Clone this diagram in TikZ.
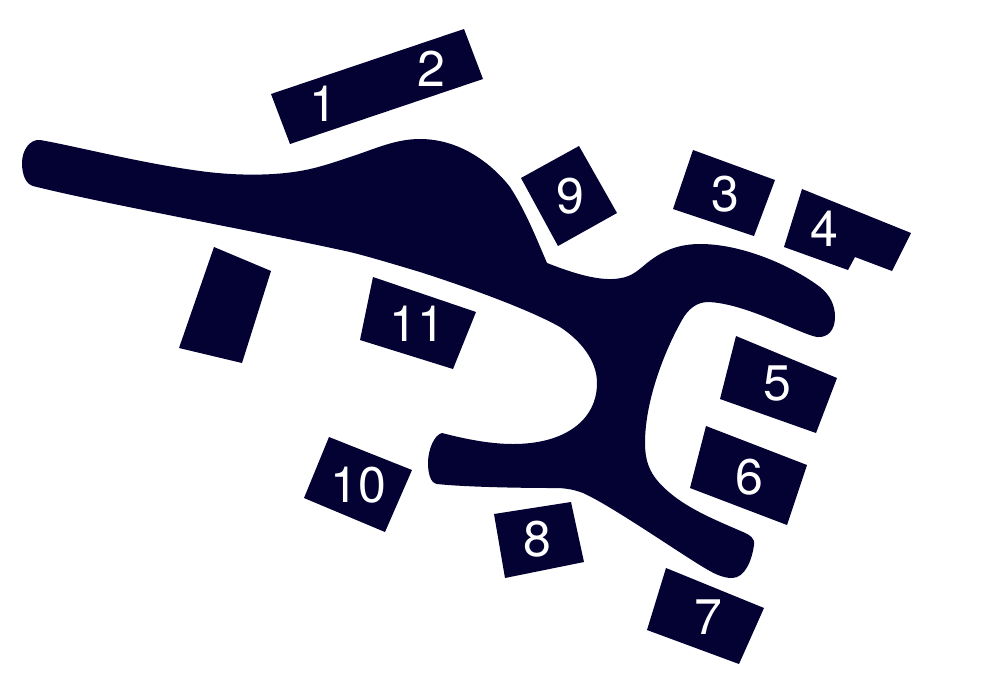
\documentclass[tikz,border=0pt]{standalone}
\usepackage{fontspec}
\setmainfont{TeX Gyre Heros}
\definecolor{ink}{HTML}{040233}
\tikzset{
  block/.style={fill=ink,draw=none},
  num/.style={text=white,inner sep=0pt,font=\fontsize{37.5}{37.5}\selectfont}
}
\begin{document}
\begin{tikzpicture}[x=0.75pt,y=-0.75pt]
\useasboundingbox (0,0) rectangle (1000,694);
\fill[white] (0,0) rectangle (1000,694);
\fill[block] (40,140) .. controls (75,146) and (140,163) .. (200,171)
 .. controls (225,174.5) and (265,177) .. (300,171)
 .. controls (318,168) and (335,162) .. (350,157)
 .. controls (375,149) and (395,139) .. (420,139)
 .. controls (465,139) and (497,170) .. (510,187)
 .. controls (525,210) and (535,235) .. (547,263)
 .. controls (565,270) and (592,280) .. (613,279)
 .. controls (630,278) and (635,273) .. (647,263)
 .. controls (663,250) and (680,244) .. (700,244)
 .. controls (745,244) and (795,268) .. (820,287)
 .. controls (830,295) and (835,305) .. (835,317)
 .. controls (835,330) and (828,338) .. (817,337)
 .. controls (800,334) and (745,303) .. (708,302)
 .. controls (697,302) and (688,309) .. (682,320)
 .. controls (665,350) and (645,400) .. (645,443)
 .. controls (645,465) and (652,478) .. (670,493)
 .. controls (690,510) and (720,522) .. (743,532)
 .. controls (750,535) and (755,538) .. (754,545)
 .. controls (752,560) and (745,578) .. (732,578)
 .. controls (722,578) and (713,573) .. (703,567)
 .. controls (675,550) and (610,505) .. (583,493)
 .. controls (570,488) and (560,488) .. (553,488)
 .. controls (520,488) and (465,487) .. (437,484)
 .. controls (430,483) and (428,472) .. (428,463)
 .. controls (428,450) and (434,435) .. (442,433)
 .. controls (465,439) and (490,444) .. (513,444)
 .. controls (565,444) and (597,420) .. (597,383)
 .. controls (597,360) and (580,340) .. (560,327)
 .. controls (530,310) and (470,288) .. (420,272)
 .. controls (390,263) and (370,257) .. (350,252)
 .. controls (250,230) and (100,203) .. (33,186)
 .. controls (26,184) and (22,175) .. (22,163)
 .. controls (22,150) and (30,139) .. (40,140) -- cycle;
\fill[block] (271,94) -- (464,29) -- (483,79) -- (290,144) -- cycle;
\fill[block] (521,178) -- (579,146) -- (617,213) -- (558,246) -- cycle;
\fill[block] (693,150) -- (775,180) -- (754,236) -- (673,209) -- cycle;
\fill[block] (802,189) -- (911,233) -- (892,271) -- (855,257) -- (848,270) -- (784,247) -- cycle;
\fill[block] (736,336) -- (837,378) -- (816,433) -- (720,399) -- cycle;
\fill[block] (706,426) -- (807,465) -- (787,525) -- (690,488) -- cycle;
\fill[block] (666,568) -- (764,608) -- (739,664) -- (647,630) -- cycle;
\fill[block] (494,514) -- (571,502) -- (584,562) -- (505,578) -- cycle;
\fill[block] (329,437) -- (412,470) -- (385,532) -- (304,498) -- cycle;
\fill[block] (373,277) -- (476,312) -- (453,369) -- (360,340) -- cycle;
\fill[block] (214,247) -- (271,271) -- (242,363) -- (179,348) -- cycle;
\node[num] (n1) at (323,104) {1};
\node[num] (n2) at (431,69) {2};
\node[num] (n3) at (725,194) {3};
\node[num] (n4) at (824,229) {4};
\node[num] (n5) at (777,384) {5};
\node[num] (n6) at (749,477) {6};
\node[num] (n7) at (708,617) {7};
\node[num] (n8) at (537,539) {8};
\node[num] (n9) at (570,196) {9};
\node[num] (n10) at (358,485) {10};
\node[num] (n11) at (417,324) {11};
\end{tikzpicture}
\end{document}
